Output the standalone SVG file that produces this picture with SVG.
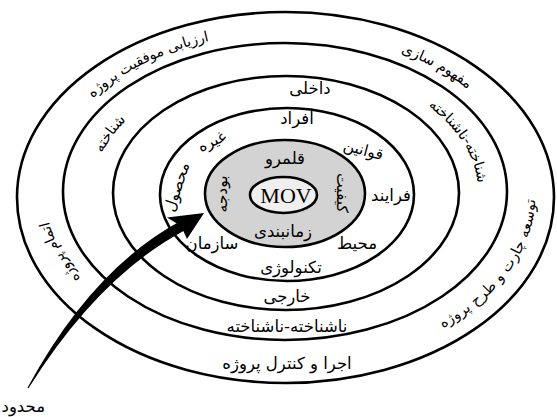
<svg xmlns="http://www.w3.org/2000/svg" width="557" height="417" viewBox="0 0 557 417">
<style>
.ring{fill:#fff;stroke:#000;stroke-width:2.6}
.gray{fill:#d3d3d3;stroke:#000;stroke-width:2.6}
.core{fill:#efefef;stroke:#000;stroke-width:2.6}
.fa{font-family:"DejaVu Sans",sans-serif;font-size:16.5px;fill:#000}
.cv{font-size:14.5px}
.rt{font-size:15.5px}
.mov{font-family:"Liberation Serif",serif;font-size:22px;fill:#000}
.mid{text-anchor:middle}
.cen{dominant-baseline:central}
</style>
<defs>
<path id="pA" d="M 45 162.6 A 245 167 0 0 1 289.8 27.5"/>
<path id="pB" d="M 332.2 30.6 A 245 167 0 0 1 517.2 140.1"/>
<path id="pC" d="M 369.3 351.4 A 245 167 0 0 0 515.7 137.4"/>
<path id="pD" d="M 103.4 306.2 A 245 167 0 0 1 42.9 171.3"/>
<path id="pE" d="M 88 192.9 A 197.5 133 0 0 1 157.5 90.7"/>
<path id="pF" d="M 407.1 87.2 A 197.5 133 0 0 1 481.1 210.5"/>
</defs>
<rect width="557" height="417" fill="#fff"/>
<g id="ring-lifecycle">
<ellipse class="ring" cx="285.5" cy="197.5" rx="268.5" ry="185.5"/>
<text class="fa cv cen"><textPath href="#pA" startOffset="50%" text-anchor="middle">ارزیابی موفقیت پروژه</textPath></text>
<text class="fa cv cen"><textPath href="#pB" startOffset="50%" text-anchor="middle">مفهوم سازی</textPath></text>
<text class="fa cv cen"><textPath href="#pC" startOffset="52%" text-anchor="middle">توسعه چارت و طرح پروژه</textPath></text>
<text class="fa cv cen"><textPath href="#pD" startOffset="45%" text-anchor="middle">اتمام پروژه</textPath></text>
<text class="fa mid" x="287" y="369">اجرا و کنترل پروژه</text>
</g>
<g id="ring-knowns">
<ellipse class="ring" cx="285" cy="191.5" rx="222" ry="148.5"/>
<text class="fa cv cen"><textPath href="#pE" startOffset="50%" text-anchor="middle">شناخته</textPath></text>
<text class="fa cv cen"><textPath href="#pF" startOffset="50%" text-anchor="middle">شناخته-ناشناخته</textPath></text>
<text class="fa mid" x="287" y="332">ناشناخته-ناشناخته</text>
</g>
<g id="ring-stakeholders">
<ellipse class="ring" cx="286" cy="193" rx="173" ry="117"/>
<text class="fa mid" x="310" y="94">داخلی</text>
<text class="fa mid" x="287" y="302">خارجی</text>
</g>
<g id="ring-infrastructure">
<ellipse class="ring" cx="287" cy="194.5" rx="127" ry="86.5"/>
<text class="fa mid" x="297" y="124">افراد</text>
<text class="fa rt mid" transform="translate(362 155) rotate(15)">قوانین</text>
<text class="fa mid" x="391" y="201">فرایند</text>
<text class="fa mid" x="357" y="249">محیط</text>
<text class="fa mid" x="291" y="273">تکنولوژی</text>
<text class="fa mid" x="212" y="249">سازمان</text>
<text class="fa rt mid cen" transform="translate(177 187) rotate(-72)">محصول</text>
<text class="fa rt mid" transform="translate(214 146) rotate(-25)">غیره</text>
</g>
<g id="ring-objectives">
<ellipse class="gray" cx="285" cy="193.5" rx="80" ry="53.5"/>
<text class="fa mid" x="285" y="164">قلمرو</text>
<text class="fa mid" x="283" y="237">زمانبندی</text>
<text class="fa rt mid cen" transform="translate(222 194) rotate(-90)">بودجه</text>
<text class="fa rt mid cen" transform="translate(342 193) rotate(90)">کیفیت</text>
</g>
<g id="core-mov">
<ellipse class="core" cx="283.5" cy="195" rx="33.5" ry="18"/>
<text class="mov mid" x="286" y="203">MOV</text>
</g>
<g id="connectors">
<path d="M 28.5 388.3 Q 98.4 276.5 184.4 230.4 L 179.6 221.6 Q 91.6 269.5 27.5 387.7 Z" fill="#000"/>
<path d="M 204 213 L 167 217.5 L 181 226 L 187 239 Z" fill="#000"/>
</g>
<text class="fa" x="45" y="412" font-size="15" text-anchor="end">محدود</text>
</svg>
